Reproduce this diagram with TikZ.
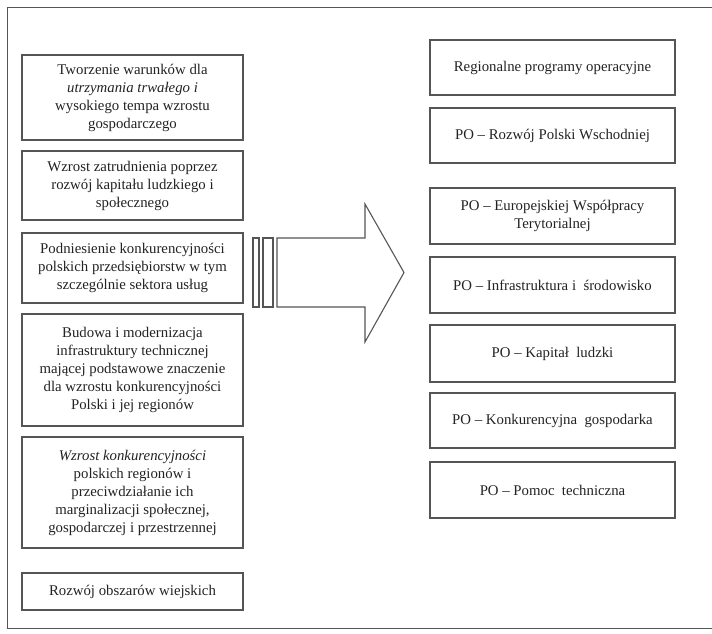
\documentclass[tikz,border=0pt]{standalone}
\usepackage{fontspec}
\setmainfont{Liberation Serif}
\definecolor{linegray}{HTML}{555555}
\definecolor{textgray}{HTML}{222222}
\begin{document}
\begin{tikzpicture}[x=1pt,y=-1pt,
  box/.style={draw=linegray, line width=1.1pt, rectangle, inner sep=0pt,
    align=center, text=textgray, font=\fontsize{14.8}{18}\selectfont},
  lbox/.style={box, minimum width=221pt},
  rbox/.style={box, minimum width=245pt},
  frameline/.style={draw=linegray, line width=1pt},
  arrowline/.style={draw=linegray, line width=1.1pt, line join=miter}]
\useasboundingbox (0,0) rectangle (712,634);
% outer frame
\coordinate (ftr) at (712,8);
\coordinate (ftl) at (7,8);
\coordinate (fbl) at (7,628);
\coordinate (fbr) at (712,628);
\draw[frameline] (ftr) -- (ftl) -- (fbl) -- (fbr);
% left column
\node[lbox, minimum height=85pt] (l1) at (132.5,97.5)
  {Tworzenie warunków dla\\ \textit{utrzymania trwałego i}\\ wysokiego tempa wzrostu\\ gospodarczego};
\node[lbox, minimum height=69pt] (l2) at (132.5,185.5)
  {Wzrost zatrudnienia poprzez\\ rozwój kapitału ludzkiego i\\ społecznego};
\node[lbox, minimum height=70pt] (l3) at (132.5,268)
  {Podniesienie konkurencyjności\\ polskich przedsiębiorstw w tym\\ szczególnie sektora usług};
\node[lbox, minimum height=112pt] (l4) at (132.5,370)
  {Budowa i modernizacja\\ infrastruktury technicznej\\ mającej podstawowe znaczenie\\ dla wzrostu konkurencyjności\\ Polski i jej regionów};
\node[lbox, minimum height=111pt] (l5) at (132.5,492.5)
  {\textit{Wzrost konkurencyjności}\\ polskich regionów i\\ przeciwdziałanie ich\\ marginalizacji społecznej,\\ gospodarczej i przestrzennej};
\node[lbox, minimum height=37pt] (l6) at (132.5,591.5)
  {Rozwój obszarów wiejskich};
% right column
\node[rbox, minimum height=55pt] (r1) at (552.5,67.5) {Regionalne programy operacyjne};
\node[rbox, minimum height=55pt] (r2) at (552.5,135.5) {PO – Rozwój Polski Wschodniej};
\node[rbox, minimum height=56pt] (r3) at (552.5,216) {PO – Europejskiej Współpracy\\ Terytorialnej};
\node[rbox, minimum height=56pt] (r4) at (552.5,285) {PO – Infrastruktura i~ środowisko};
\node[rbox, minimum height=57pt] (r5) at (552.5,353.5) {PO – Kapitał~ ludzki};
\node[rbox, minimum height=55pt] (r6) at (552.5,420.5) {PO – Konkurencyjna~ gospodarka};
\node[rbox, minimum height=56pt] (r7) at (552.5,490) {PO – Pomoc~ techniczna};
% big arrow with bars
\draw[arrowline] (253,238) rectangle (259,307);
\draw[arrowline] (263,238) rectangle (273,307);
\draw[arrowline] (277,238) -- (365,238) -- (365,204) -- (404,272.5)
  -- (365,342) -- (365,307) -- (277,307) -- cycle;
\end{tikzpicture}
\end{document}
